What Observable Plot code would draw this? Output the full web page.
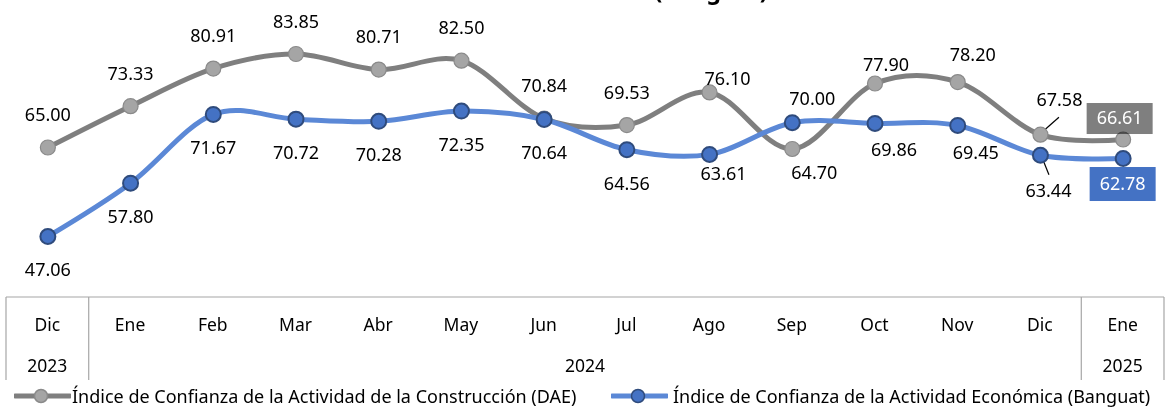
<!DOCTYPE html>
<html>
<head>
<meta charset="utf-8">
<script src="https://cdn.jsdelivr.net/npm/d3@7"></script>
<script src="https://cdn.jsdelivr.net/npm/@observablehq/plot@0.6"></script>
<style>
  html, body { margin: 0; padding: 0; background: #fff; }
  body { font-family: "Noto Sans", sans-serif; width: 1165px; height: 407px; overflow: hidden; }
  #chart svg { display: block; }
  #legend { position: relative; height: 22px; font-size: 18px; color: #000; }
  #legend .item { position: absolute; top: 0; height: 22px; display: flex; align-items: center; white-space: nowrap; }
  #legend svg { display: block; }
</style>
</head>
<body>
<div id="chart"></div>
<div id="legend"></div>
<script>
// ---- data ----
const months = ["Dic","Ene","Feb","Mar","Abr","May","Jun","Jul","Ago","Sep","Oct","Nov","Dic","Ene"];
const years  = ["2023","2024","2024","2024","2024","2024","2024","2024","2024","2024","2024","2024","2024","2025"];
const dae     = [65.00,73.33,80.91,83.85,80.71,82.50,70.84,69.53,76.10,64.70,77.90,78.20,67.58,66.61];
const banguat = [47.06,57.80,71.67,70.72,70.28,72.35,70.64,64.56,63.61,70.00,69.86,69.45,63.44,62.78];
const seriesNames = [
  "Índice de Confianza de la Actividad de la Construcción (DAE)",
  "Índice de Confianza de la Actividad Económica (Banguat)"
];
const titleText = "(Banguat)";

// ---- styles / layout ----
const grayLine = "#7f7f7f", grayFill = "#a5a5a5", grayStroke = "#8a8a8a";
const blueLine = "#5b88d6", blueFill = "#4472c4", blueStroke = "#2f4b7c";
const fontFam = "Noto Sans, sans-serif";

const keys = months.map((m, i) => `${m} ${years[i]}`);
const rowsDae = keys.map((k, i) => ({key: k, i, value: dae[i]}));
const rowsBan = keys.map((k, i) => ({key: k, i, value: banguat[i]}));
const last = keys.length - 1;

// label offsets (dx, dy) relative to the point — defaults, with Excel-style adjustments
const grayAdj = {8: [18, -13], 9: [22, 24], 10: [11, -18], 11: [15, -27], 12: [19, -34]};
const blueAdj = {7: [0, 35], 8: [14, 20], 9: [20, -23], 10: [19, 27], 11: [18, 28], 12: [8, 36]};

const labelMarks = [];
rowsDae.forEach((d, i) => {
  if (i === last) return;
  const [dx, dy] = grayAdj[i] || [0, -32];
  labelMarks.push(Plot.text([d], {x: "key", y: "value", text: r => r.value.toFixed(2), dx, dy,
    fontSize: 18, fill: "#000", fontFamily: fontFam}));
});
rowsBan.forEach((d, i) => {
  if (i === last) return;
  const [dx, dy] = blueAdj[i] || [0, 34];
  labelMarks.push(Plot.text([d], {x: "key", y: "value", text: r => r.value.toFixed(2), dx, dy,
    fontSize: 18, fill: "#000", fontFamily: fontFam}));
});

// table under the plot, title and leader lines, drawn from the scales
const overlay = (index, scales) => {
  const x = scales.x, y = scales.y;
  const step = x(keys[1]) - x(keys[0]);
  const left = x(keys[0]) - step / 2, right = x(keys[last]) + step / 2;
  const g = d3.create("svg:g");
  const tTop = 297, tBot = 380, mY = 325, yY = 366;
  const lc = "#a6a6a6";
  g.append("line").attr("x1", left).attr("x2", right).attr("y1", tTop).attr("y2", tTop)
    .attr("stroke", lc).attr("stroke-width", 1.2);
  const groups = [];
  years.forEach((yr, i) => {
    if (!groups.length || groups[groups.length - 1].year !== yr) groups.push({year: yr, start: i, end: i});
    else groups[groups.length - 1].end = i;
  });
  const edges = [left];
  groups.forEach(gr => edges.push(x(keys[gr.end]) + step / 2));
  edges.forEach(ex => g.append("line").attr("x1", ex).attr("x2", ex).attr("y1", tTop).attr("y2", tBot)
    .attr("stroke", lc).attr("stroke-width", 1.2));
  keys.forEach((k, i) => g.append("text").attr("x", x(k)).attr("y", mY).attr("dy", "0.35em")
    .attr("text-anchor", "middle").attr("font-size", 17.5).attr("font-family", fontFam).text(months[i]));
  groups.forEach(gr => {
    const cx = (x(keys[gr.start]) + x(keys[gr.end])) / 2;
    g.append("text").attr("x", cx).attr("y", yY).attr("dy", "0.35em")
      .attr("text-anchor", "middle").attr("font-size", 17.5).attr("font-family", fontFam).text(gr.year);
  });
  // title (cut at the top edge, as in the reference)
  g.append("text").attr("x", 711).attr("y", -1).attr("text-anchor", "middle")
    .attr("font-size", 23).attr("font-weight", "bold").attr("font-family", fontFam).text(titleText);
  // leader lines for Dic 2024
  const px = x(keys[12]);
  const gy = y(dae[12]), by = y(banguat[12]);
  g.append("line").attr("x1", px + 2).attr("y1", gy - 2).attr("x2", px + 19).attr("y2", gy - 17)
    .attr("stroke", "#000").attr("stroke-width", 1.2);
  g.append("line").attr("x1", px + 1).attr("y1", by).attr("x2", px + 9).attr("y2", by + 20)
    .attr("stroke", "#000").attr("stroke-width", 1.2);
  return g.node();
};

const boxes = (index, scales) => {
  const x = scales.x, y = scales.y;
  const g = d3.create("svg:g");
  const lx = x(keys[last]);
  const gy = y(dae[last]) - 21, by = y(banguat[last]) + 26;
  g.append("rect").attr("x", lx - 3 - 33).attr("y", gy - 15).attr("width", 66).attr("height", 31)
    .attr("fill", "#7f7f7f").style("mix-blend-mode", "multiply");
  g.append("text").attr("x", lx - 3).attr("y", gy).attr("dy", "0.35em").attr("text-anchor", "middle")
    .attr("font-size", 18).attr("font-family", fontFam).attr("fill", "#fff").text(dae[last].toFixed(2));
  g.append("rect").attr("x", lx - 33).attr("y", by - 17).attr("width", 66).attr("height", 34)
    .attr("fill", blueFill);
  g.append("text").attr("x", lx).attr("y", by).attr("dy", "0.35em").attr("text-anchor", "middle")
    .attr("font-size", 18).attr("font-family", fontFam).attr("fill", "#fff").text(banguat[last].toFixed(2));
  return g.node();
};

const chart = Plot.plot({
  width: 1165,
  height: 385,
  margin: 0,
  style: {fontFamily: fontFam, background: "#fff", overflow: "hidden"},
  x: {type: "point", domain: keys, range: [6, 1164], padding: 0.5, round: false, axis: null},
  y: {domain: [40, 90], range: [271.0, 23.0], axis: null},
  marks: [
    overlay,
    Plot.line(rowsDae, {x: "key", y: "value", stroke: grayLine, strokeWidth: 5, curve: "cardinal", tension: 0}),
    Plot.dot(rowsDae, {x: "key", y: "value", r: 7.5, fill: grayFill, stroke: grayStroke, strokeWidth: 1.2}),
    Plot.line(rowsBan, {x: "key", y: "value", stroke: blueLine, strokeWidth: 5, curve: "cardinal", tension: 0}),
    Plot.dot(rowsBan, {x: "key", y: "value", r: 7.5, fill: blueFill, stroke: blueStroke, strokeWidth: 2}),
    ...labelMarks,
    boxes
  ]
});
document.getElementById("chart").appendChild(chart);

// legend
const legend = d3.select("#legend");
const legItems = [
  {name: seriesNames[0], line: grayLine, fill: grayFill, stroke: grayStroke, sw: 14, tx: 72},
  {name: seriesNames[1], line: blueLine, fill: blueFill, stroke: blueStroke, sw: 611, tx: 673}
];
legItems.forEach(it => {
  const s = legend.append("svg").attr("width", 57).attr("height", 22)
    .style("position", "absolute").style("left", it.sw + "px").style("top", "0px");
  s.append("line").attr("x1", 1).attr("x2", 56).attr("y1", 11).attr("y2", 11)
    .attr("stroke", it.line).attr("stroke-width", 5).attr("stroke-linecap", "round");
  s.append("circle").attr("cx", 27).attr("cy", 11).attr("r", 6.5)
    .attr("fill", it.fill).attr("stroke", it.stroke).attr("stroke-width", 1.5);
  legend.append("div").attr("class", "item").style("left", it.tx + "px").text(it.name);
});
</script>
</body>
</html>
